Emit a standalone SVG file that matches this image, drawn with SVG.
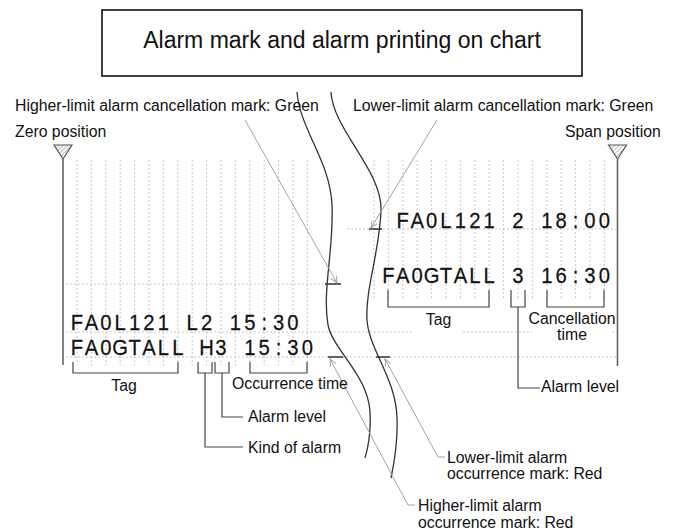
<svg xmlns="http://www.w3.org/2000/svg" width="674" height="531" viewBox="0 0 674 531">
<style>
.lbl{font-family:"Liberation Sans",Arial,sans-serif;font-size:15.8px;fill:#111}
.mid{text-anchor:middle}
.ttl{font-family:"Liberation Sans",Arial,sans-serif;font-size:23px;fill:#111;text-anchor:middle}
.prt{font-family:"Liberation Sans",Arial,sans-serif;font-size:22px;fill:#111;text-anchor:middle;stroke:#111;stroke-width:0.25}
.grid{stroke:#b8b8b8;stroke-width:0.8;stroke-dasharray:2 2;fill:none}
.pen{stroke:#333;stroke-width:1.3;fill:none}
.mark{stroke:#333;stroke-width:1.3;fill:none}
.lead{stroke:#9a9a9a;stroke-width:0.9;fill:none}
.brk{stroke:#444;stroke-width:1.2;fill:none}
.scale{stroke:#666;stroke-width:1.6;fill:none}
.tri{fill:url(#hatch);stroke:#555;stroke-width:1.2}
</style>
<defs>
<pattern id="hatch" width="3" height="3" patternUnits="userSpaceOnUse" patternTransform="rotate(45)"><line x1="0" y1="0" x2="0" y2="3" stroke="#777" stroke-width="1"/></pattern>
<marker id="arr" markerWidth="8" markerHeight="8" refX="7" refY="4" orient="auto" markerUnits="userSpaceOnUse"><path d="M0,1 L7,4 L0,7" fill="none" stroke="#9a9a9a" stroke-width="0.9"/></marker>
</defs>
<rect width="674" height="531" fill="#fff"/>

<g id="title">
<rect x="102" y="10" width="480" height="66" fill="#fff" stroke="#111" stroke-width="1.6"/>
<text class="ttl" x="342" y="48">Alarm mark and alarm printing on chart</text>
</g>

<g id="grid">
<path class="grid" d="M77,160V365M91.4,160V365M105.8,160V365M120.2,160V365M134.6,160V365M149,160V365M163.4,160V365M177.8,160V365M192.2,160V365M206.6,160V365M221,160V365M235.4,160V365M249.8,160V365M264.2,160V365M278.6,160V365M293,160V365M307.4,160V365"/>
<path class="grid" d="M374,160V300M388.4,160V300M402.8,160V300M417.2,160V300M431.6,160V300M446,160V300M460.4,160V300M474.8,160V300M489.2,160V300M503.6,160V300M518,160V300M532.4,160V300M546.8,160V300M561.2,160V300M575.6,160V300M590,160V300M604.4,160V300"/>
<path class="grid" d="M347,229H617M62,284H341M62,332H412M463,332H532M612,332H617M62,357H617"/>
</g>

<g id="zero-position">
<polygon class="tri" points="54,145 72,145 63,159"/>
<line class="scale" x1="63" y1="159" x2="63" y2="365"/>
<text class="lbl" x="15" y="137">Zero position</text>
</g>

<g id="span-position">
<polygon class="tri" points="608.5,145 626.5,145 617.5,159"/>
<line class="scale" x1="617.5" y1="159" x2="617.5" y2="366"/>
<text class="lbl" x="565" y="137">Span position</text>
</g>

<g id="pen-traces">
<path class="pen" d="M297,92 C300,130 330,160 332,205 C334,250 322,290 328,325 C333,350 368,375 370,412 C371,432 368,448 365,458"/>
<path class="pen" d="M331,92 C333,130 382,170 381,210 C380,250 365,290 367,320 C369,350 396,378 397,418 C398,444 394,464 391,478"/>
</g>

<g id="alarm-marks">
<path class="mark" d="M325,284H341M369,229H382M328,357H343M376,357H390"/>
</g>

<g id="print-right" transform="scale(0.92,1)">
<text class="prt" y="228" x="437.83 453.48 469.13 484.78 500.43 516.09 531.74 547.39 563.04 578.70 594.35 610.00 625.65 641.30 656.96">FA0L121 2 18:00</text>
<text class="prt" y="283" x="422.17 437.83 453.48 469.13 484.78 500.43 516.09 531.74 547.39 563.04 578.70 594.35 610.00 625.65 641.30 656.96">FA0GTALL 3 16:30</text>
</g>

<g id="print-left" transform="scale(0.92,1)">
<text class="prt" y="330" x="83.70 99.35 115.00 130.65 146.30 161.96 177.61 193.26 208.91 224.57 240.22 255.87 271.52 287.17 302.83 318.48">FA0L121 L2 15:30</text>
<text class="prt" y="355" x="83.70 99.35 115.00 130.65 146.30 161.96 177.61 193.26 208.91 224.57 240.22 255.87 271.52 287.17 302.83 318.48 334.13">FA0GTALL H3 15:30</text>
</g>

<g id="connectors">
<path class="lead" d="M245,120 L337,283" marker-end="url(#arr)"/>
<path class="lead" d="M437,120 L371,228" marker-end="url(#arr)"/>
<path class="lead" d="M415,505 H408 L330,359" marker-end="url(#arr)"/>
<path class="lead" d="M445,457 H438 L385,359" marker-end="url(#arr)"/>
<path class="brk" d="M388,290V307H489V290"/>
<path class="brk" d="M511,290V307H525V290M518,307V388H540"/>
<path class="brk" d="M547,290V307H604V290"/>
<path class="brk" d="M73,362V373H178V362"/>
<path class="brk" d="M198,362V373H212V362M205,373V447H243"/>
<path class="brk" d="M215,362V373H229V362M222,373V417H243"/>
<path class="brk" d="M250,362V373H307V362"/>
</g>

<g id="labels">
<text class="lbl" x="15" y="111">Higher-limit alarm cancellation mark: Green</text>
<text class="lbl" x="353" y="111">Lower-limit alarm cancellation mark: Green</text>
<text class="lbl mid" x="438.5" y="325">Tag</text>
<text class="lbl mid" x="572" y="324">Cancellation</text>
<text class="lbl mid" x="572" y="340">time</text>
<text class="lbl" x="541" y="392">Alarm level</text>
<text class="lbl mid" x="124" y="391">Tag</text>
<text class="lbl" x="232" y="389">Occurrence time</text>
<text class="lbl" x="248" y="422">Alarm level</text>
<text class="lbl" x="248" y="453">Kind of alarm</text>
<text class="lbl" x="447" y="463">Lower-limit alarm</text>
<text class="lbl" x="447" y="479">occurrence mark: Red</text>
<text class="lbl" x="418" y="511">Higher-limit alarm</text>
<text class="lbl" x="418" y="527.5">occurrence mark: Red</text>
</g>
</svg>
